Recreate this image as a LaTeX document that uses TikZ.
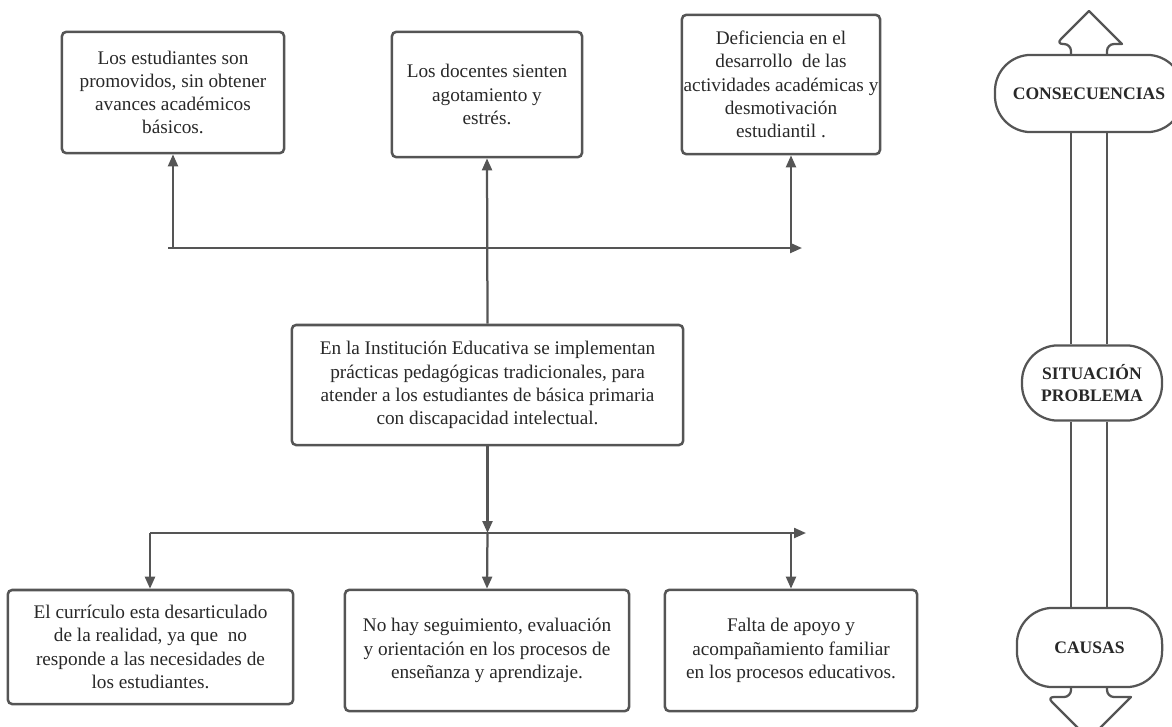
\documentclass[tikz,border=0pt]{standalone}
\usepackage{fontspec}
\setmainfont{Liberation Serif}
\usetikzlibrary{arrows.meta,calc}

\definecolor{linea}{RGB}{85,85,85}
\definecolor{texto}{RGB}{40,40,40}

\tikzset{
    caja/.style={draw=linea, line width=1.8pt, rounded corners=3pt, align=center,
        inner sep=0pt, text=texto, font=\fontsize{13.7}{16.5}\selectfont},
    pildora/.style={draw=linea, line width=1.6pt, rounded corners=0.9cm, align=center,
        inner sep=0pt, text=texto, fill=white, font=\fontsize{12.5}{15}\selectfont\bfseries},
    flecha/.style={draw=linea, line width=1.6pt, -{Triangle[length=3mm,width=2.5mm]}},
    borde/.style={draw=linea, line width=1.6pt},
}

\begin{document}
\begin{tikzpicture}[x=0.025cm, y=-0.025cm]
        \useasboundingbox (0,0) rectangle (1172,726);
        % consecuencias
        \node[caja, minimum width=5.55cm, minimum height=3.03cm] (efecto1) at (173,92.5)
            {Los estudiantes son\\promovidos, sin obtener\\avances académicos\\básicos.};
        \node[caja, minimum width=4.75cm, minimum height=3.13cm] (efecto2) at (487,94.5)
            {Los docentes sienten\\agotamiento y\\estrés.};
        \node[caja, minimum width=4.95cm, minimum height=3.48cm] (efecto3) at (781,84.5)
            {Deficiencia en el\\desarrollo\ \ de las\\actividades académicas y\\desmotivación\\estudiantil .};
        % situacion problema
        \node[caja, minimum width=9.78cm, minimum height=3cm] (centro) at (487.5,385)
            {En la Institución Educativa se implementan\\prácticas pedagógicas tradicionales, para\\atender a los estudiantes de básica primaria\\con discapacidad intelectual.};
        % causas
        \node[caja, minimum width=7.13cm, minimum height=2.85cm] (causa1) at (150.5,647)
            {El currículo esta desarticulado\\de la realidad, ya que\ \ no\\responde a las necesidades de\\los estudiantes.};
        \node[caja, minimum width=7.1cm, minimum height=3.03cm] (causa2) at (487,650.5)
            {No hay seguimiento, evaluación\\y orientación en los procesos de\\enseñanza y aprendizaje.};
        \node[caja, minimum width=6.3cm, minimum height=3.03cm] (causa3) at (791,650.5)
            {Falta de apoyo y\\acompañamiento familiar\\en los procesos educativos.};

        % conectores de arriba
        \coordinate (t1) at (168,248);
        \coordinate (t2) at (802,248);
        \coordinate (t3) at (791,248);
        \draw[flecha] (t1) -- (t2);
        \draw[flecha] (efecto1.south |- t1) -- (efecto1.south);
        \draw[flecha] (centro.north) -- (efecto2.south);
        \draw[flecha] (t3) -- (t3 |- efecto3.south);

        % conectores de abajo
        \coordinate (b1) at (150,533);
        \coordinate (b2) at (806,533);
        \coordinate (b3) at (791,533);
        \draw[flecha] (centro.south) -- (centro.south |- b1);
        \draw[flecha] (b1) -- (b2);
        \draw[flecha] (b1) -- (b1 |- causa1.north);
        \draw[flecha] (centro.south |- b1) -- (causa2.north);
        \draw[flecha] (b3) -- (b3 |- causa3.north);

        % flecha doble de la derecha
        \node[pildora, minimum width=4.7cm, minimum height=1.93cm] (cons) at (1089,93.5) {CONSECUENCIAS};
        \node[pildora, minimum width=3.5cm, minimum height=1.88cm] (sit) at (1092,383) {SITUACIÓN\\PROBLEMA};
        \node[pildora, minimum width=3.63cm, minimum height=1.98cm] (caus) at (1089.5,647.5) {CAUSAS};
        \coordinate (s1) at (1071,0);
        \coordinate (s2) at (1107,0);
        \draw[borde] (cons.south -| s1) -- (sit.north -| s1);
        \draw[borde] (cons.south -| s2) -- (sit.north -| s2);
        \draw[borde] (sit.south -| s1) -- (caus.north -| s1);
        \draw[borde] (sit.south -| s2) -- (caus.north -| s2);
        \draw[borde, line join=round] (cons.north -| s1) [rounded corners=5pt] -- (1071,44) -- (1056,44)
            [sharp corners] -- (1089,11) -- (1122,44) [rounded corners=5pt] -- (1107,44) -- (cons.north -| s2);
        \draw[borde, line join=round] (caus.south -| s1) [rounded corners=5pt] -- (1071,697) -- (1047,697)
            [sharp corners] -- (1089,739) -- (1131,697) [rounded corners=5pt] -- (1107,697) -- (caus.south -| s2);
\end{tikzpicture}
\end{document}
